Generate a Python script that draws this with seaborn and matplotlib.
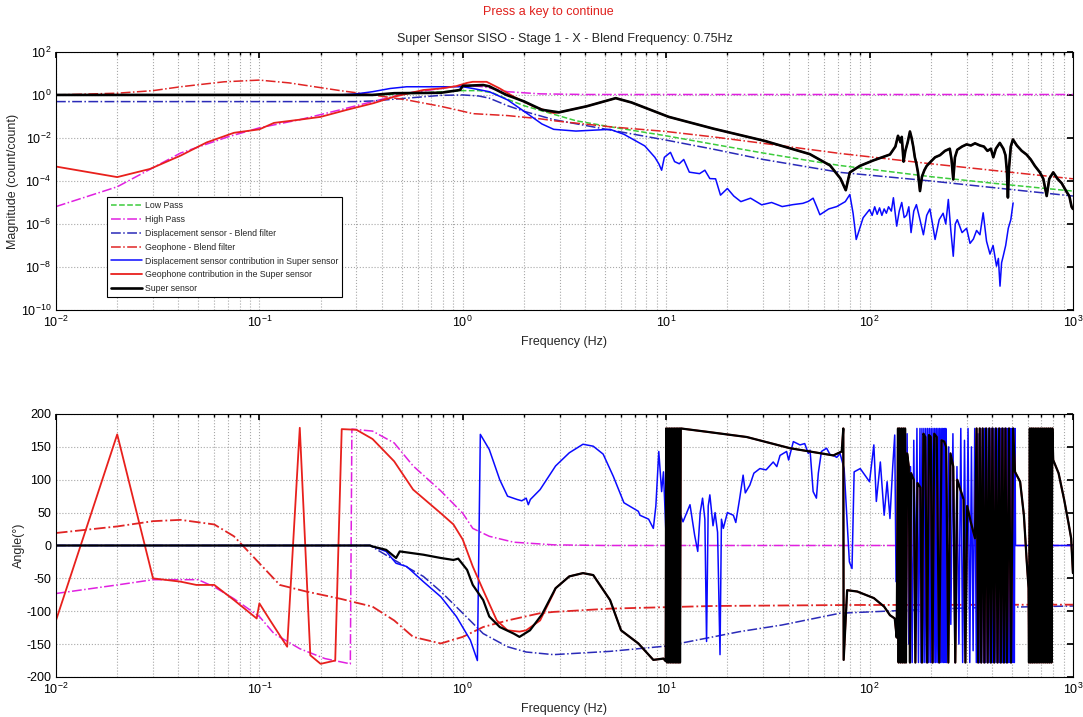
"""
plot.py - Super sensor SISO blend: magnitude and phase (Bode) chart
"""
import numpy as np
import matplotlib
matplotlib.use("Agg")
import matplotlib.pyplot as plt
import seaborn as sns
from matplotlib.ticker import LogLocator, FixedLocator, NullLocator

# ---------------------------------------------------------------
# Data: (frequency Hz, log10 magnitude)
# ---------------------------------------------------------------
low_pass_mag = [
    (0.01, 0.0), (0.4, 0.0), (0.6, 0.08), (0.8, 0.15), (1.0, 0.2), (1.2, 0.2),
    (1.4, 0.1), (1.66, -0.2), (2.0, -0.5), (2.8, -0.9), (3.6, -1.2), (5.3, -1.48),
    (10, -1.9), (17, -2.29), (30, -2.7), (50, -3.05), (71.5, -3.28), (100, -3.45),
    (200, -3.8), (400, -4.1), (700, -4.33), (1000, -4.47)]

high_pass_mag = [
    (0.01, -5.19), (0.02, -4.27), (0.041, -2.7), (0.07, -1.95), (0.1, -1.53),
    (0.158, -1.15), (0.25, -0.69), (0.36, -0.31), (0.53, 0.08), (0.78, 0.3),
    (1.0, 0.46), (1.26, 0.38), (1.66, 0.15), (2.4, 0.05), (4.0, 0.02), (1000, 0.02)]

disp_blend_mag = [
    (0.01, -0.31), (0.3, -0.31), (0.36, -0.28), (0.53, -0.15), (0.78, -0.02),
    (1.0, 0.0), (1.2, -0.05), (1.35, -0.15), (1.66, -0.5), (2.0, -0.76),
    (2.8, -1.15), (5.3, -1.63), (10, -2.1), (17, -2.52), (30, -3.0), (71.5, -3.6),
    (200, -4.0), (500, -4.4), (1000, -4.7)]

geo_blend_mag = [
    (0.01, 0.0), (0.02, 0.08), (0.03, 0.2), (0.041, 0.38), (0.067, 0.61),
    (0.1, 0.69), (0.14, 0.56), (0.25, 0.2), (0.36, 0.0), (0.53, -0.23),
    (0.78, -0.53), (1.0, -0.76), (1.12, -0.87), (1.66, -0.96), (2.4, -1.11),
    (2.8, -1.2), (5.3, -1.48), (10, -1.7), (17, -1.95), (30, -2.25), (71.5, -2.72),
    (200, -3.2), (500, -3.6), (1000, -3.9)]

disp_contrib_mag = [
    (0.01, 0.0), (0.25, 0.0), (0.3, 0.05), (0.36, 0.15), (0.44, 0.3), (0.53, 0.38),
    (0.78, 0.38), (1.0, 0.38), (1.12, 0.3), (1.35, 0.15), (1.66, -0.23), (2.0, -0.76),
    (2.45, -1.35), (2.8, -1.6), (3.6, -1.68), (5.3, -1.6), (6.2, -1.83), (7.85, -2.37),
    (8.8, -2.9), (9.2, -3.2), (9.5, -3.5), (9.8, -2.9), (10.5, -2.67), (11.0, -3.1),
    (11.6, -3.2), (12.2, -3.0), (13, -3.59), (14.6, -3.66), (15.5, -3.5), (16.4, -3.89),
    (17.5, -3.9), (18.5, -4.66), (20, -4.35), (21.5, -4.7), (23.3, -4.96), (26, -4.8),
    (29.5, -5.11), (33, -5.0), (37.2, -5.19), (42, -5.1), (47, -5.04), (50, -4.95),
    (52.8, -4.8), (55, -5.2), (57, -5.57), (63, -5.3), (69, -5.19), (76, -4.96),
    (80, -4.63), (83, -5.5), (86, -6.72), (93, -5.71), (100, -5.33), (103, -5.6),
    (106, -5.2), (109, -5.55), (112, -5.25), (115, -5.6), (118, -5.3), (121, -5.5),
    (124, -5.2), (128, -5.4), (131, -4.78), (136, -6.1), (140, -5.4), (144, -5.0),
    (148, -5.7), (152, -5.6), (156, -5.2), (160, -6.4), (165, -5.4), (170, -5.1),
    (177, -5.8), (184, -6.5), (191, -5.6), (198, -5.3), (204, -6.0), (210, -6.72),
    (220, -5.8), (230, -5.5), (237, -6.0), (244, -4.86), (251, -6.3), (258, -7.5),
    (264, -6.0), (270, -5.8), (285, -6.4), (300, -6.2), (312, -6.9), (324, -6.7),
    (336, -6.3), (349, -6.5), (362, -5.48), (376, -6.8), (391, -7.4), (405, -7.0),
    (421, -7.96), (430, -7.6), (438, -8.89), (446, -7.8), (454, -7.5), (467, -7.0),
    (481, -6.2), (495, -5.8), (508, -5.02)]

# geophone contribution below 2.8 Hz; above it runs under the super sensor trace
geo_contrib_mag = [
    (0.01, -3.33), (0.02, -3.82), (0.029, -3.44), (0.041, -2.82), (0.055, -2.21),
    (0.075, -1.76), (0.1, -1.6), (0.118, -1.3), (0.158, -1.15), (0.2, -1.02),
    (0.27, -0.69), (0.365, -0.38), (0.46, -0.08), (0.53, 0.05), (0.64, 0.23),
    (0.78, 0.3), (0.93, 0.41), (1.05, 0.56), (1.12, 0.61), (1.31, 0.61), (1.52, 0.3),
    (1.78, -0.08), (2.22, -0.53), (2.79, -0.84)]

super_mag = [
    (0.01, 0.0), (0.36, 0.0), (0.46, 0.08), (0.78, 0.1), (0.97, 0.23), (1.0, 0.42),
    (1.26, 0.46), (1.35, 0.4), (1.64, 0.0), (2.0, -0.3), (2.45, -0.69), (2.97, -0.81),
    (4.06, -0.53), (5.65, -0.15), (6.75, -0.35), (10.3, -1.02), (17.1, -1.57),
    (30.6, -2.14), (50.8, -2.75), (64, -3.28), (72, -3.89), (76.4, -4.43), (80, -3.6),
    (89.6, -3.3), (104, -3.05), (126, -2.77), (134, -2.4), (138, -1.9), (142, -2.2),
    (144, -1.95), (147, -3.1), (150, -2.6), (154, -2.2), (158, -1.7), (161, -2.0),
    (164, -2.4), (167, -2.9), (170, -3.2), (173, -3.6), (177, -4.47), (181, -3.8),
    (186, -3.5), (191, -3.3), (200, -3.1), (210, -2.9), (222, -2.8), (235, -2.6),
    (248, -2.5), (253, -3.0), (258, -3.93), (263, -2.9), (270, -2.55), (285, -2.4),
    (300, -2.3), (315, -2.35), (330, -2.25), (349, -2.35), (365, -2.4), (380, -2.6),
    (395, -2.5), (406, -2.9), (418, -2.5), (437, -2.23), (455, -2.5), (466, -2.8),
    (474, -3.6), (479, -4.77), (485, -3.4), (495, -2.4), (507, -2.07), (530, -2.35),
    (560, -2.6), (591, -2.77), (620, -3.0), (650, -3.3), (688, -3.6), (715, -3.9),
    (743, -4.7), (765, -3.9), (800, -3.6), (840, -3.9), (880, -4.1), (930, -4.5),
    (960, -4.7), (985, -5.2), (1000, -5.3)]

# ---------------------------------------------------------------
# Phase, degrees
# ---------------------------------------------------------------
high_pass_ph = [
    (0.01, -73), (0.02, -60), (0.03, -52), (0.05, -52), (0.06, -63), (0.075, -81),
    (0.1, -108), (0.118, -134), (0.158, -157), (0.21, -172), (0.28, -180),
    (0.285, 177), (0.36, 174), (0.46, 156), (0.57, 121), (0.78, 83), (1.0, 49),
    (1.12, 26), (1.35, 14), (1.78, 5), (2.8, 1), (5.0, 0), (1000, 0)]

disp_blend_ph = [
    (0.01, 0), (0.35, 0), (0.46, -22), (0.64, -47), (0.78, -70), (1.0, -103),
    (1.26, -134), (1.66, -154), (2.05, -162), (2.79, -166), (5.3, -161), (10, -153),
    (17, -139), (23, -131), (37, -121), (71.6, -103), (140, -99), (300, -95),
    (1000, -92)]

geo_blend_ph = [
    (0.01, 19), (0.02, 29), (0.03, 37), (0.041, 39), (0.06, 32), (0.075, 14),
    (0.1, -27), (0.126, -60), (0.17, -70), (0.25, -81), (0.36, -93), (0.46, -114),
    (0.57, -139), (0.78, -149), (1.0, -139), (1.26, -124), (1.66, -114), (2.4, -103),
    (2.8, -101), (5.3, -96), (17, -92), (81, -90.5), (1000, -90)]

disp_contrib_ph = [
    (0.01, 0), (0.35, 0), (0.42, -9), (0.47, -27), (0.53, -32), (0.64, -55),
    (0.78, -78), (0.93, -108), (1.09, -144), (1.18, -175), (1.2, -1), (1.22, 169),
    (1.35, 146), (1.52, 100), (1.66, 75), (1.85, 70), (1.95, 68), (2.05, 72),
    (2.1, 62), (2.15, 70), (2.4, 85), (2.86, 121), (3.34, 141), (3.9, 154),
    (4.38, 151), (4.9, 139), (5.5, 105), (6.2, 65), (7.3, 52), (7.43, 46), (8.2, 40),
    (8.65, 26), (8.9, 60), (9.2, 143), (9.5, 82), (9.7, 112), (10.0, 11), (10.5, 60),
    (11.0, 30), (11.5, 55), (12.1, 36), (13.1, 62), (13.8, 16), (14.3, -9), (14.7, 50),
    (15.1, 72), (15.5, 40), (15.8, -146), (16.1, 60), (16.4, 77), (17.0, 30),
    (17.4, 50), (17.9, 20), (18.4, -166), (18.7, 40), (19.1, 26), (20, 50),
    (21.4, 46), (22, 35), (23, 72), (23.9, 107), (24.5, 80), (25.8, 92), (27, 110),
    (28.9, 117), (31, 115), (33.6, 127), (35, 120), (36.3, 137), (39.1, 143),
    (40, 130), (42.2, 158), (45.5, 153), (48, 155), (50, 140), (51, 145), (52.8, 82),
    (54.8, 72), (56, 110), (58, 143), (61.5, 148), (64, 138), (66.4, 137), (69, 134),
    (71.6, 140), (75, 117), (77.6, 36), (79.6, -25), (82, -35), (84, 112), (90, 117),
    (100, 97), (105, 153), (108, 67), (113, 127), (118, 46), (122, 97), (126, 41),
    (130, 120), (133, 168), (135, -55), (141, 62),
    (144, -60), (147, 150), (150, -120), (153, 170), (156, -150), (159, 120),
    (162, -178), (165, 160), (168, -100), (171, 178), (174, -178),
    (177, 178), (179, -178), (181, 178), (183, -178), (185, 178), (187, -178),
    (189, 178), (191, -178), (193, 178), (195, -178), (197, 178), (199, -178),
    (201, 178), (203, -178), (205, 178), (207, -178), (209, 178), (211, -178),
    (213, 178), (215, -178), (217, 178), (219, -178), (221, 178), (223, -178),
    (225, 178), (227, -178), (229, 178), (231, -178), (233, 178), (235, -178),
    (237, 178), (239, -178),
    (245, 150), (251, -120), (257, 170), (263, -178), (269, 120), (275, -150),
    (281, 178), (287, -178), (293, 160), (299, -100), (305, 178), (311, -178),
    (317, 150), (323, -160), (329, 178), (335, -178), (341, 170), (347, -178),
    (351, 178), (355, -178), (359, 178), (363, -178), (367, 178), (371, -178),
    (375, 178), (379, -178), (383, 178), (387, -178), (391, 178), (395, -178),
    (399, 178), (403, -178), (407, 178), (411, -178), (415, 178), (419, -178),
    (423, 178), (427, -178), (431, 178), (435, -178), (439, 178), (443, -178),
    (447, 178), (451, -178), (455, 178), (459, -178), (463, 178), (467, -178),
    (471, 178), (475, -178), (479, 178), (483, -178), (487, 178), (491, -178),
    (495, 178), (499, -178), (503, 178), (507, -178), (511, 178), (515, -178),
    (519, 178), (522, 0), (1000, 0)]

geo_contrib_ph = [
    (0.01, -114), (0.02, 169), (0.03, -50), (0.041, -55), (0.049, -60), (0.06, -60),
    (0.075, -83), (0.097, -111), (0.1, -88), (0.113, -114), (0.137, -154),
    (0.158, 179), (0.178, -167), (0.2, -180), (0.236, -175), (0.254, 177), (0.3, 176),
    (0.36, 162), (0.46, 128), (0.57, 85), (0.78, 49), (0.9, 32), (1.0, 9),
    (1.12, -32), (1.26, -68), (1.47, -114), (1.66, -129), (1.9, -131), (2.05, -129),
    (2.4, -114), (2.79, -73)]

super_ph = [
    (0.01, 0), (0.35, 0), (0.36, -1.5), (0.42, -6.6), (0.47, -19), (0.49, -9),
    (0.64, -14), (0.78, -19), (0.9, -22), (0.95, -20), (1.05, -37), (1.12, -60),
    (1.26, -83), (1.35, -108), (1.52, -124), (1.78, -134), (1.9, -139), (2.14, -129),
    (2.45, -105), (2.86, -65), (3.34, -47), (3.9, -42), (4.38, -45), (5.3, -83),
    (6.0, -129), (7.3, -149), (8.65, -174), (9.7, -172), (9.95, -176),
    (10.0, 178), (10.1, -178), (10.2, 178), (10.3, -178), (10.4, 178), (10.5, -178),
    (10.6, 178), (10.7, -178), (10.8, 178), (10.9, -178), (11.0, 178), (11.1, -178),
    (11.2, 178), (11.3, -178), (11.4, 178), (11.5, -178), (11.6, 178), (11.7, -178),
    (11.8, 178),
    (15.8, 173), (24.9, 165), (40.6, 148), (66.4, 137), (73, 143), (74.3, 178),
    (74.6, -174), (77.6, -68), (87, -70), (105, -80), (118, -93), (126, -106),
    (133, -111), (136, -140),
    (138, 178), (139, -178), (140.5, 178), (142, -178), (143.5, 178), (145, -178),
    (146.5, 178), (148, -178), (149.5, 178), (151, -178),
    (153, 140), (156, 120), (158, -178), (160, 110), (165, 100), (168, -178),
    (172, 95), (178, 88), (181, -178), (184, 170), (188, 165), (192, -178),
    (196, 168), (200, 165), (204, -178), (208, 170), (214, 165), (220, -178),
    (226, 160), (233, 158), (238, 150), (244, -178), (250, 140), (258, 120),
    (264, -178), (270, 100), (280, 85), (290, 70), (296, -178), (302, 60),
    (315, 35), (330, 11),
    (336, 178), (342, -178), (348, 178), (354, -178), (360, 178), (367, -178),
    (374, 178), (381, -178), (388, 178), (395, -178), (402, 178), (410, -178),
    (418, 178), (426, -178), (434, 178), (442, -178), (450, 178), (458, -178),
    (466, 178), (474, -178), (485, 178), (496, -178), (508, 178),
    (519, 112), (550, 97), (574, 46), (593, -25), (605, -65),
    (608, -178), (614, 178), (620, -178), (626, 178), (632, -178), (638, 178),
    (645, -178), (652, 178), (659, -178), (666, 178), (673, -178), (680, 178),
    (688, -178), (696, 178), (704, -178), (712, 178), (720, -178), (728, 178),
    (736, -178), (744, 178), (752, -178), (760, 178), (768, -178), (776, 178),
    (784, -178), (792, 178),
    (800, 130), (850, 110), (905, 70), (950, 35), (980, 11), (1000, -42)]

legend_labels = [
    "Low Pass", "High Pass", "Displacement sensor - Blend filter",
    "Geophone - Blend filter", "Displacement sensor contribution in Super sensor",
    "Geophone contribution in the Super sensor", "Super sensor"]

mag_ticks = [1e-10, 1e-8, 1e-6, 1e-4, 1e-2, 1e0, 1e2]
phase_ticks = [-200, -150, -100, -50, 0, 50, 100, 150, 200]

# ---------------------------------------------------------------
GREEN = "#3ccc3c"
MAGENTA = "#e020e0"
NAVY = "#2a2ab8"
RED_DD = "#e02424"
BLUE = "#0a0aff"
RED = "#e8201c"
BLACK = "#000000"

sns.set_theme(style="white")
plt.rcParams['font.family'] = ['Liberation Sans', 'DejaVu Sans']
plt.rcParams['mathtext.fontset'] = 'custom'
plt.rcParams['mathtext.rm'] = 'Liberation Sans'
plt.rcParams['mathtext.it'] = 'Liberation Sans'
plt.rcParams['axes.unicode_minus'] = False


def unpack(points, log_values=False):
    f, v = zip(*points)
    f = np.asarray(f, dtype=float)
    v = np.asarray(v, dtype=float)
    if log_values:
        v = 10.0 ** v
    return f, v


def tail_from(points, start):
    return [p for p in points if p[0] > start]


def draw(ax, points, color, ls, lw, label=None, log_values=False):
    f, v = unpack(points, log_values)
    sns.lineplot(x=f, y=v, ax=ax, color=color, linestyle=ls, linewidth=lw,
                 estimator=None, sort=False, label=label)


def style_axis(ax):
    ax.set_xscale('log')
    ax.set_xlim(1e-2, 1e3)
    ax.xaxis.set_major_locator(LogLocator(base=10, numticks=10))
    ax.xaxis.set_minor_locator(LogLocator(base=10, subs=np.arange(2, 10), numticks=100))
    ax.grid(True, which='both', axis='x', linestyle=':', color='#a8a8a8', linewidth=0.8)
    ax.grid(True, which='major', axis='y', linestyle=':', color='#a8a8a8', linewidth=0.8)
    ax.tick_params(which='both', direction='in', top=True, right=True,
                   labelsize=9, colors='black')
    ax.tick_params(which='major', length=4)
    ax.tick_params(which='minor', length=2)
    for s in ax.spines.values():
        s.set_color('black')
        s.set_linewidth(0.8)
    ax.set_xlabel("Frequency (Hz)", fontsize=9)


fig = plt.figure(figsize=(10.83, 7.17), dpi=100)
ax_mag = fig.add_axes([0.0517, 0.5676, 0.939, 0.36])
ax_ph = fig.add_axes([0.0517, 0.0558, 0.939, 0.3668])

# ---- magnitude ----
draw(ax_mag, low_pass_mag, GREEN, '--', 1.1, legend_labels[0], True)
draw(ax_mag, high_pass_mag, MAGENTA, '-.', 1.1, legend_labels[1], True)
draw(ax_mag, disp_blend_mag, NAVY, '-.', 1.1, legend_labels[2], True)
draw(ax_mag, geo_blend_mag, RED_DD, '-.', 1.1, legend_labels[3], True)
draw(ax_mag, disp_contrib_mag, BLUE, '-', 1.1, legend_labels[4], True)
draw(ax_mag, geo_contrib_mag + tail_from(super_mag, 2.8), RED, '-', 1.3,
     legend_labels[5], True)
draw(ax_mag, super_mag, BLACK, '-', 1.9, legend_labels[6], True)

ax_mag.set_yscale('log')
ax_mag.set_ylim(1e-10, 1e2)
ax_mag.yaxis.set_major_locator(FixedLocator(mag_ticks))
ax_mag.yaxis.set_minor_locator(NullLocator())
style_axis(ax_mag)
ax_mag.set_ylabel("Magnitude (count/count)", fontsize=9, labelpad=1)
ax_mag.set_title("Super Sensor SISO - Stage 1 - X - Blend Frequency: 0.75Hz",
                 fontsize=9, pad=7)

leg = ax_mag.legend(loc='lower left', bbox_to_anchor=(0.05, 0.05), fontsize=6.3,
                    frameon=True, fancybox=False, framealpha=1, edgecolor='black',
                    handlelength=3.6, handletextpad=0.3, labelspacing=0.55,
                    borderpad=0.45, borderaxespad=0)
leg.get_frame().set_linewidth(0.8)

# ---- phase ----
draw(ax_ph, high_pass_ph, MAGENTA, '-.', 1.1)
draw(ax_ph, disp_blend_ph, NAVY, '-.', 1.1)
draw(ax_ph, geo_blend_ph, RED_DD, '-.', 1.3)
draw(ax_ph, disp_contrib_ph, BLUE, '-', 1.1)
draw(ax_ph, geo_contrib_ph + tail_from(super_ph, 2.8), RED, '-', 1.3)
draw(ax_ph, super_ph, BLACK, '-', 1.6)

ax_ph.set_ylim(-200, 200)
ax_ph.yaxis.set_major_locator(FixedLocator(phase_ticks))
ax_ph.yaxis.set_minor_locator(NullLocator())
style_axis(ax_ph)
ax_ph.set_ylabel("Angle(°)", fontsize=9, labelpad=1)
if ax_ph.get_legend() is not None:
    ax_ph.get_legend().remove()

fig.text(0.506, 0.983, "Press a key to continue", color='#e0201c',
         fontsize=9, ha='center', va='center')

fig.savefig("out.png", dpi=100)
plt.close(fig)
